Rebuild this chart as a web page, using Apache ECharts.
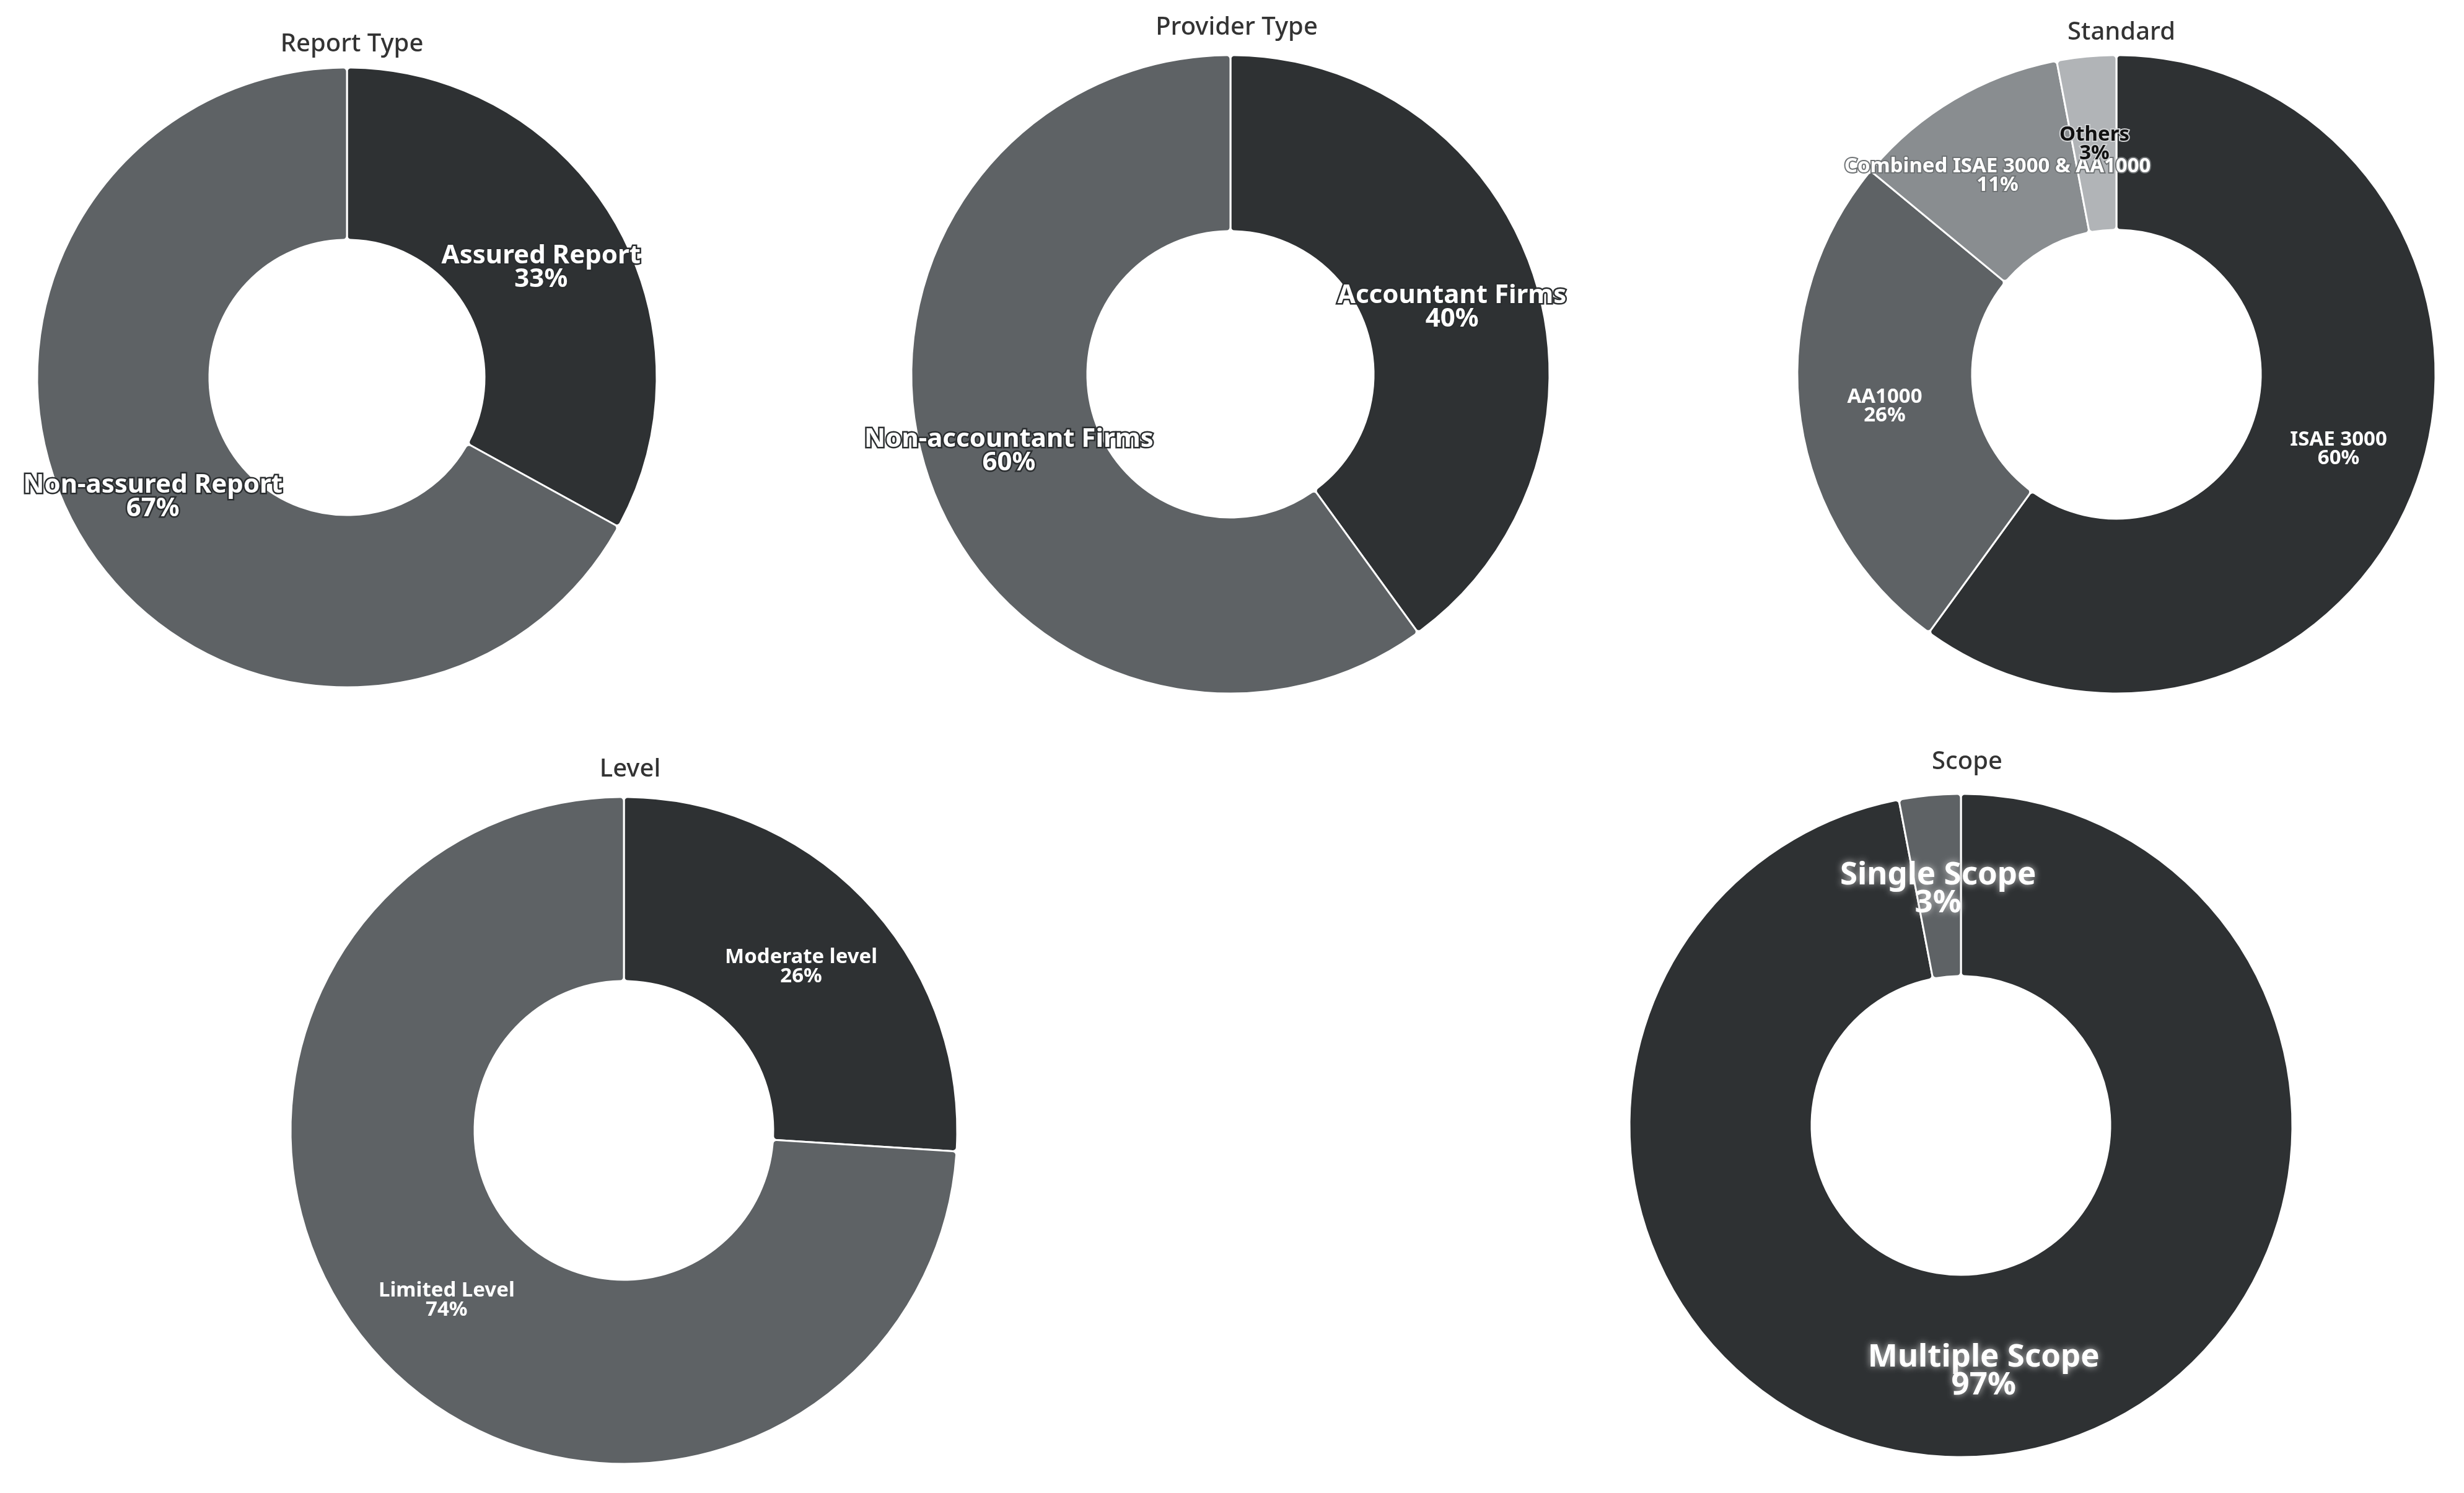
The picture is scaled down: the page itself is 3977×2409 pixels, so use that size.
<!DOCTYPE html>
<html>
<head>
<meta charset="utf-8">
<title>Assurance donuts</title>
<script src="https://cdn.jsdelivr.net/npm/echarts@6/dist/echarts.min.js"></script>
<style>
  html, body { margin: 0; padding: 0; background: #fff; }
  #main { width: 3977px; height: 2409px; }
</style>
</head>
<body>
<div id="main"></div>
<script>
// values (percent of reports)
const reportNames = ['Assured Report', 'Non-assured Report']
const reportValues = [33, 67]

const providerNames = ['Accountant Firms', 'Non-accountant Firms']
const providerValues = [40, 60]

const standardNames = ['ISAE 3000', 'AA1000', 'Combined ISAE 3000 & AA1000', 'Others']
const standardValues = [60, 26, 11, 3]

const levelNames = ['Moderate level', 'Limited Level']
const levelValues = [26, 74]

const scopeNames = ['Multiple Scope', 'Single Scope']
const scopeValues = [97, 3]

const DARK = '#2e3133'
const MID = '#5e6265'
const LIGHT = '#898d90'
const LIGHTEST = '#b1b4b7'

const myChart = echarts.init(document.getElementById('main'))

function toData (names, values, colors, labels) {
  return names.map((n, i) => {
    const item = { name: n, value: values[i], itemStyle: { color: colors[i] } }
    if (labels && labels[i]) item.label = labels[i]
    return item
  })
}

function donut (center, radius, data, label) {
  return {
    type: 'pie',
    center: center,
    radius: radius,
    startAngle: 90,
    clockwise: true,
    silent: true,
    animation: false,
    avoidLabelOverlap: false,
    minShowLabelAngle: 0,
    labelLayout: { hideOverlap: false },
    itemStyle: {
      borderColor: '#fff',
      borderWidth: 3,
      borderRadius: 6
    },
    label: Object.assign({
      show: true,
      position: 'inside',
      formatter: '{b}\n{c}%',
      color: '#fff',
      fontFamily: 'Noto Sans',
      fontWeight: 'bold'
    }, label),
    labelLine: { show: false },
    data: data
  }
}

function title (text, x, y) {
  return {
    text: text,
    left: x,
    top: y,
    textAlign: 'center',
    textStyle: {
      fontFamily: 'Noto Sans',
      fontWeight: 500,
      fontSize: 40,
      color: '#333'
    }
  }
}

const bigOutline = { fontSize: 42, lineHeight: 38, offset: [0, 8], textBorderColor: '#2b2e30', textBorderWidth: 5 }

const option = {
  backgroundColor: '#fff',
  title: [
    title('Report Type', 563, 47),
    title('Provider Type', 1991, 20),
    title('Standard', 3419, 28),
    title('Level', 1012, 1217),
    title('Scope', 3170, 1205)
  ],
  series: [
    donut([560, 609], [222, 500],
      toData(reportNames, reportValues, [DARK, MID]), bigOutline),
    donut([1986, 604], [231, 515],
      toData(providerNames, providerValues, [DARK, MID]), bigOutline),
    donut([3416, 604], [233, 515],
      toData(standardNames, standardValues, [DARK, MID, LIGHT, LIGHTEST], [
        null,
        null,
        { textBorderColor: '#6f7375', textBorderWidth: 4 },
        { color: '#111', textBorderColor: '#cfd1d3', textBorderWidth: 4 }
      ]), { fontSize: 33, lineHeight: 30, offset: [0, 4] }),
    donut([1007, 1824], [241, 538],
      toData(levelNames, levelValues, [DARK, MID]), { fontSize: 33, lineHeight: 31, offset: [0, 5] }),
    donut([3165, 1816], [241, 535],
      toData(scopeNames, scopeValues, [DARK, MID]),
      { fontSize: 51, lineHeight: 45, offset: [0, 8], textShadowColor: 'rgba(210,210,210,0.95)', textShadowBlur: 12 })
  ]
}

myChart.setOption(option)
</script>
</body>
</html>
